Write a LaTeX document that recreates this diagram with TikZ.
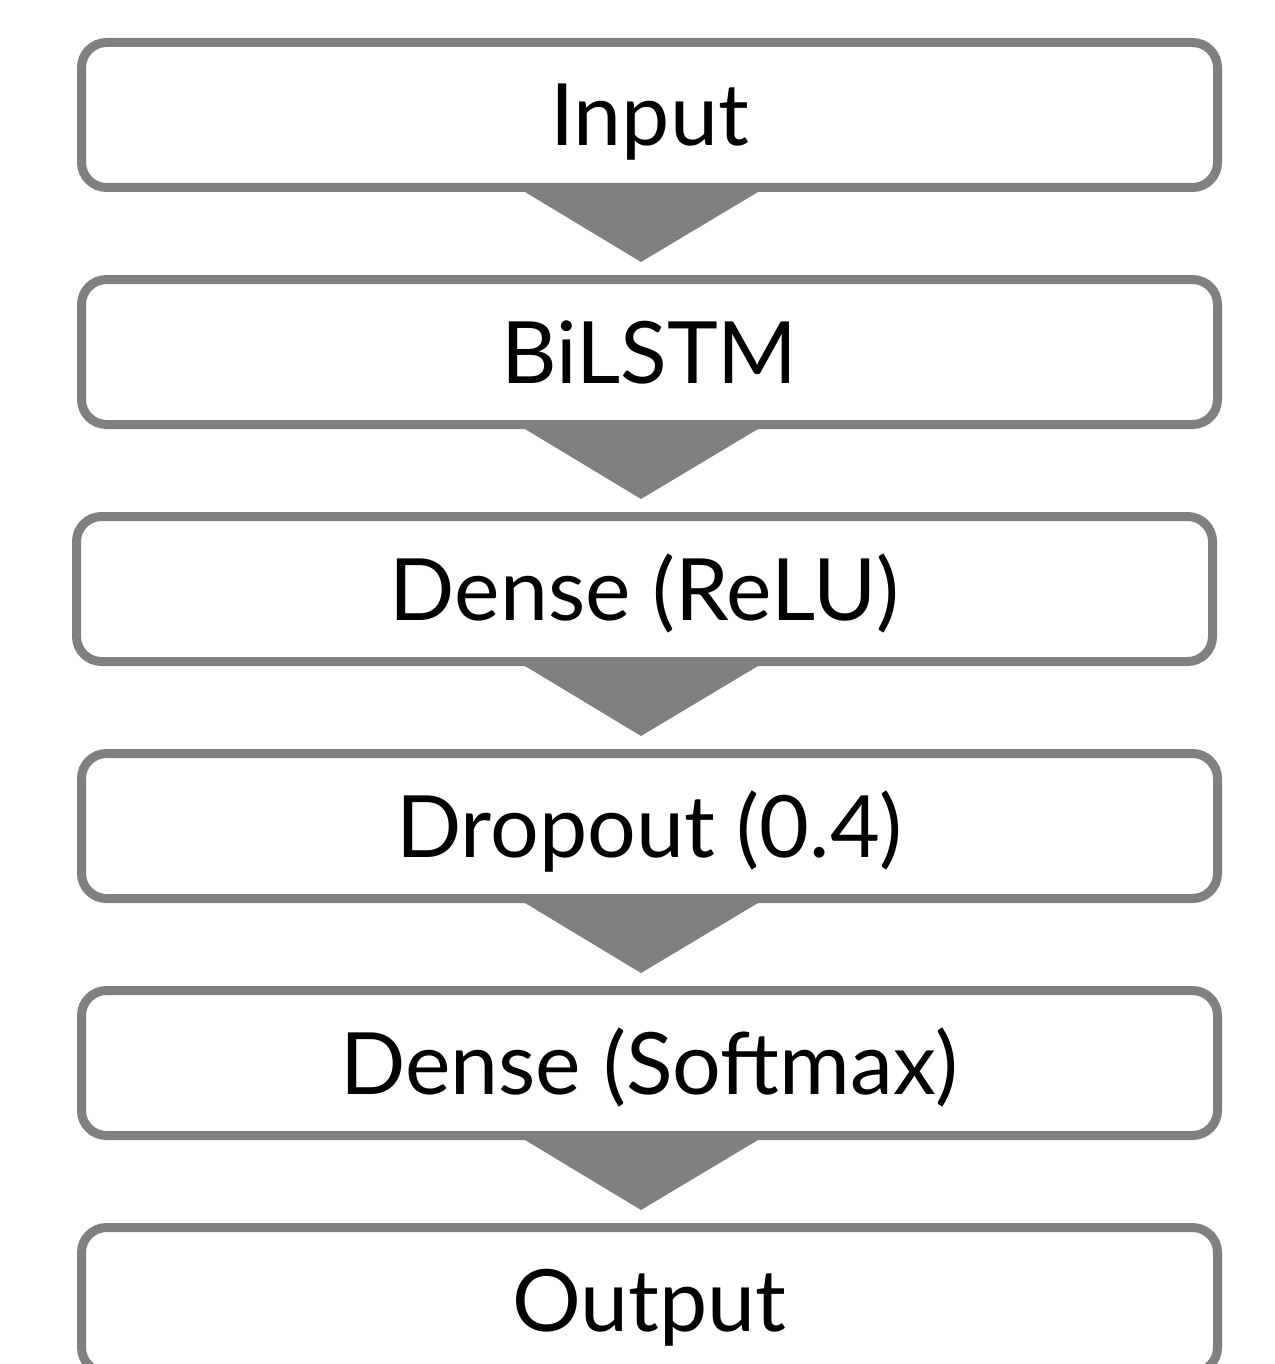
\documentclass[tikz,border=0pt]{standalone}
\usepackage{fontspec}
\setmainfont{Lato}
\usepackage{tikz}
\usetikzlibrary{positioning}

\begin{document}
\begin{tikzpicture}[x=1pt, y=-1pt, node distance=237pt]
    % Define the style for the nodes
    \tikzstyle{layer} = [draw=gray, line width=9pt, rounded corners=25pt, fill=white,
        minimum width=1136pt, minimum height=145pt, inner sep=0pt,
        font=\fontsize{86}{100}\selectfont, text height=62pt, text depth=0pt]
    \tikzstyle{flow} = [fill=gray, draw=none]

    \useasboundingbox (0,0) rectangle (1274,1364);

    % Place the nodes
    \node [layer] at (649.5,115) (input) {Input};
    \node [layer, below of=input] (bilstm) {BiLSTM};
    \node [layer, below of=bilstm, xshift=-5pt] (relu) {Dense (ReLU)};
    \node [layer, below of=relu, xshift=5pt] (dropout) {Dropout (0.4)};
    \node [layer, below of=dropout] (softmax) {Dense (Softmax)};
    \node [layer, below of=softmax] (output) {Output};

    % Connect the nodes with arrows
    \foreach \a in {input, bilstm, relu, dropout, softmax}
        \path [flow] ([xshift=-124.5pt]\a.south -| input.south) -- ([xshift=108.5pt]\a.south -| input.south)
            -- ([xshift=-8.5pt, yshift=-70pt]\a.south -| input.south) -- cycle;

\end{tikzpicture}
\end{document}
